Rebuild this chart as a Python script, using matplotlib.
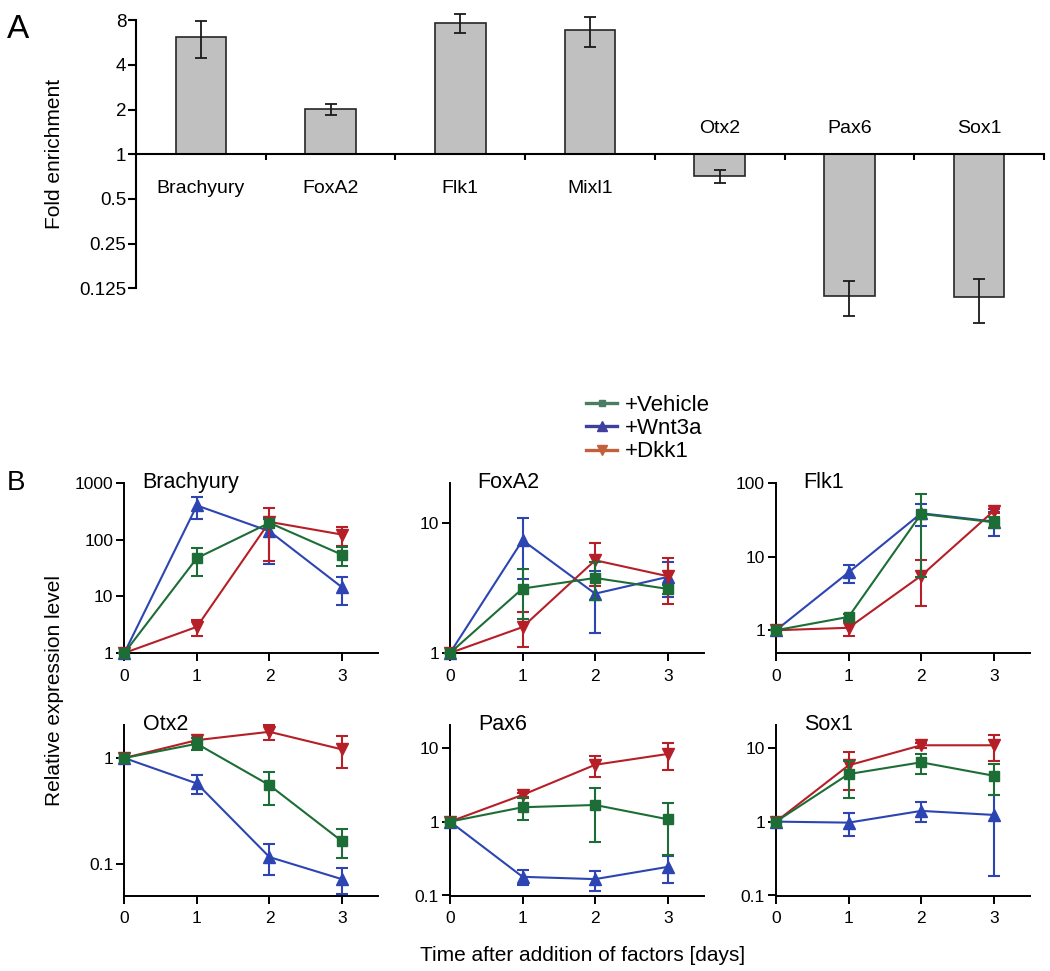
import matplotlib
matplotlib.use("Agg")
import matplotlib.pyplot as plt
from matplotlib.lines import Line2D
from matplotlib.ticker import NullLocator

plt.rcParams['font.family'] = ['Liberation Sans', 'DejaVu Sans']

# ---------------------------------------------------------------
# Panel A data: fold enrichment (log2 scale)
# ---------------------------------------------------------------
genes_a = ["Brachyury", "FoxA2", "Flk1", "Mixl1", "Otx2", "Pax6", "Sox1"]
fold_enrichment = [6.2, 2.01, 7.71, 6.85, 0.711, 0.111, 0.109]
fold_sem = [1.76, 0.16, 1.15, 1.56, 0.075, 0.030, 0.036]
fold_ticks = [0.125, 0.25, 0.5, 1, 2, 4, 8]
fold_tick_labels = ["0.125", "0.25", "0.5", "1", "2", "4", "8"]

# ---------------------------------------------------------------
# Panel B data: relative expression, rows = Vehicle, Wnt3a, Dkk1
# ---------------------------------------------------------------
days = [0, 1, 2, 3]
treatments = ["+Vehicle", "+Wnt3a", "+Dkk1"]

brachyury_mean = [[1, 47.6, 200, 54.6],
                  [1, 406, 142, 14.5],
                  [1, 2.9, 208, 124]]
brachyury_sem = [[0, 24.5, 30, 19.5],
                 [0, 175, 105, 7.3],
                 [0, 0.9, 165, 45]]

foxa2_mean = [[1, 3.12, 3.76, 3.10],
              [1, 7.32, 2.85, 3.83],
              [1, 1.58, 5.14, 3.88]]
foxa2_sem = [[0, 1.3, 1.2, 0.25],
             [0, 3.6, 1.42, 1.15],
             [0, 0.47, 1.85, 1.5]]

flk1_mean = [[1, 1.52, 38.3, 29.5],
             [1, 6.13, 39.1, 30.2],
             [1, 1.08, 5.52, 42.1]]
flk1_sem = [[0, 0.15, 33, 5],
            [0, 1.7, 13, 11],
            [0, 0.25, 3.4, 3]]

otx2_mean = [[1, 1.364, 0.553, 0.163],
             [1, 0.574, 0.1155, 0.0713],
             [1, 1.476, 1.77, 1.206]]
otx2_sem = [[0, 0.17, 0.19, 0.05],
            [0, 0.12, 0.038, 0.02],
            [0, 0.08, 0.3, 0.4]]

pax6_mean = [[1, 1.565, 1.68, 1.076],
             [1, 0.179, 0.1666, 0.244],
             [1, 2.30, 5.88, 8.24]]
pax6_sem = [[0, 0.5, 1.15, 0.72],
            [0, 0.042, 0.05, 0.098],
            [0, 0.15, 1.9, 3.3]]

sox1_mean = [[1, 4.4, 6.35, 4.18],
             [1, 0.969, 1.397, 1.232],
             [1, 5.78, 10.8, 10.8]]
sox1_sem = [[0, 2.3, 1.97, 1.9],
            [0, 0.33, 0.42, 1.05],
            [0, 3.1, 0.8, 4.1]]

line_colors = ['#1c6e36', '#2c45b2', '#b61f27']
legend_colors = ['#4a7d62', '#3f3f9e', '#c2603e']
markers = ['s', '^', 'v']
marker_sizes = [6.5, 8, 8]

W, H = 1050, 971
fig = plt.figure(figsize=(W / 100, H / 100), dpi=100)


def px_axes(left, top, right, bottom):
    # place an axes using pixel coordinates measured from the top-left corner
    return fig.add_axes([left / W, 1 - bottom / H, (right - left) / W, (bottom - top) / H])


# ---------------------------------------------------------------
# Panel A
# ---------------------------------------------------------------
ax = px_axes(136, 9.2, 1044, 330.4)
ax.set_yscale('log', base=2)
xs = list(range(len(genes_a)))
ax.bar(xs, [v - 1 for v in fold_enrichment], bottom=1, width=0.39,
       color='#c0c0c0', edgecolor='#262626', linewidth=1.2, zorder=2)
ax.errorbar(xs, fold_enrichment, yerr=fold_sem, fmt='none', ecolor='#1a1a1a',
            elinewidth=1.3, capsize=4.3, capthick=1.3, zorder=3)
ax.set_xlim(-0.5, 6.5)
ax.set_ylim(0.065, 9.5)
for s in ['top', 'right']:
    ax.spines[s].set_visible(False)
ax.spines['left'].set_bounds(0.125, 8)
ax.spines['left'].set_linewidth(1.5)
ax.spines['bottom'].set_position(('data', 1))
ax.spines['bottom'].set_linewidth(1.5)
ax.set_yticks(fold_ticks, fold_tick_labels)
ax.yaxis.set_minor_locator(NullLocator())
ax.set_xticks([i + 0.5 for i in xs], [''] * len(xs))
ax.tick_params(axis='y', length=6, width=1.5, labelsize=13.5, pad=1)
ax.tick_params(axis='x', length=4, width=1.5, direction='out')
for i, (g, v) in enumerate(zip(genes_a, fold_enrichment)):
    dy = -24.5 if v >= 1 else 18.7
    ax.annotate(g, (i, 1), xytext=(0, dy), textcoords='offset points',
                ha='center', va='center', fontsize=14)

fig.text(55 / W, 1 - 154 / H, 'Fold enrichment', rotation=90,
         ha='center', va='center', fontsize=15)
fig.text(7 / W, 1 - 30 / H, 'A', ha='left', va='center', fontsize=24)

# ---------------------------------------------------------------
# Panel B
# ---------------------------------------------------------------
panels = [
    ("Brachyury", brachyury_mean, brachyury_sem, (1, 1000), [1, 10, 100, 1000], 0.072),
    ("FoxA2", foxa2_mean, foxa2_sem, (1, 20), [1, 10], 0.109),
    ("Flk1", flk1_mean, flk1_sem, (0.49, 100), [1, 10, 100], 0.107),
    ("Otx2", otx2_mean, otx2_sem, (0.05, 2.03), [0.1, 1], 0.072),
    ("Pax6", pax6_mean, pax6_sem, (0.1, 20), [0.1, 1, 10], 0.11),
    ("Sox1", sox1_mean, sox1_sem, (0.1, 20), [0.1, 1, 10], 0.109),
]
col_left = [124.3, 450, 776]
row_top = [483.3, 725.5]
row_bottom = [653, 895.5]

for k, (name, means, sems, ylim, yticks, tx) in enumerate(panels):
    r, c = divmod(k, 3)
    ax = px_axes(col_left[c], row_top[r], col_left[c] + 254, row_bottom[r])
    ax.set_yscale('log')
    # draw Wnt3a, then Dkk1, Vehicle on top
    for j in [1, 2, 0]:
        cont = ax.errorbar(days, means[j], yerr=sems[j], color=line_colors[j],
                           marker=markers[j], ms=marker_sizes[j], lw=1.5,
                           elinewidth=1.5, capsize=4.3, capthick=1.5,
                           zorder=3 + j * 0.1 if j else 3.5)
        for art in cont.lines[0:1] + tuple(cont.lines[1]) + tuple(cont.lines[2]):
            art.set_clip_on(False)
    ax.set_xlim(0, 3.5)
    ax.set_ylim(*ylim)
    for s in ['top', 'right']:
        ax.spines[s].set_visible(False)
    for s in ['left', 'bottom']:
        ax.spines[s].set_linewidth(1.4)
    ax.set_xticks(days, [str(d) for d in days])
    ax.set_yticks(yticks, [f"{t:g}" for t in yticks])
    ax.yaxis.set_minor_locator(NullLocator())
    ax.tick_params(axis='x', length=6, width=1.4, labelsize=12.5, pad=5.5)
    ax.tick_params(axis='y', length=6, width=1.4, labelsize=12.5, pad=2)
    ax.text(tx, 1.005, name, transform=ax.transAxes, ha='left', va='center',
            fontsize=15.5)

fig.text(7 / W, 1 - 483 / H, 'B', ha='left', va='center', fontsize=20)
fig.text(55 / W, 1 - 690 / H, 'Relative expression level', rotation=90,
         ha='center', va='center', fontsize=15)
fig.text(583 / W, 1 - 955 / H, 'Time after addition of factors [days]',
         ha='center', va='center', fontsize=15)

handles = [Line2D([], [], color=legend_colors[j], marker=markers[j], lw=2.4,
                  ms=marker_sizes[j] - 1.5) for j in range(3)]
fig.legend(handles, treatments, loc='upper left',
           bbox_to_anchor=(586 / W, 1 - 395 / H), frameon=False, fontsize=16,
           handlelength=1.4, handletextpad=0.35, labelspacing=0.1,
           borderpad=0, borderaxespad=0)

fig.savefig('out.png', dpi=100)
